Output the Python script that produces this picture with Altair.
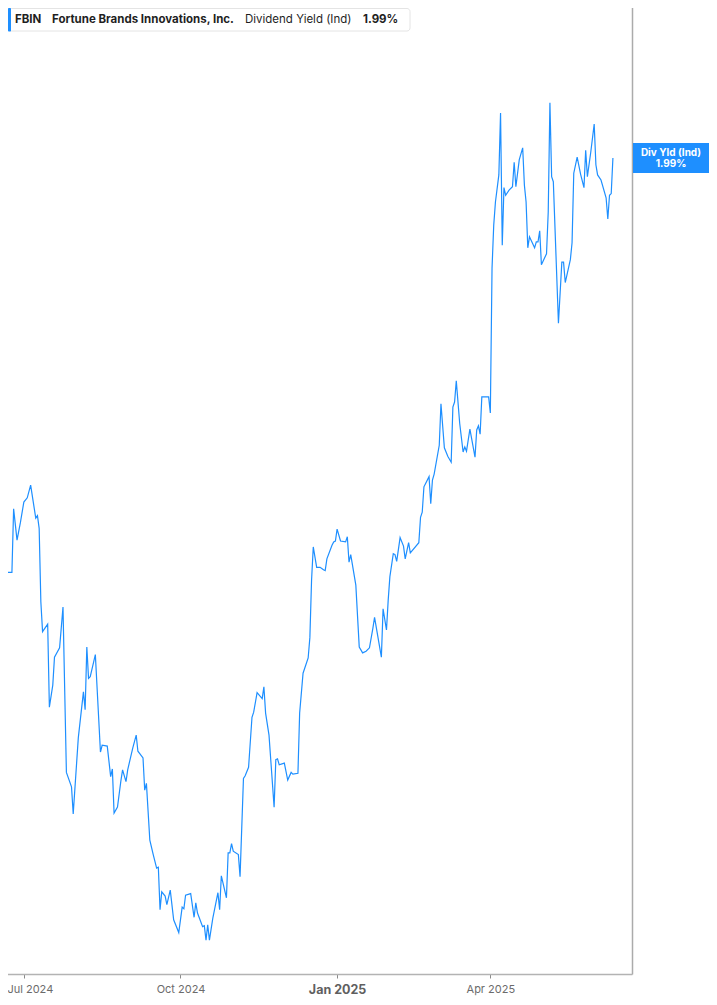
import altair as alt
import pandas as pd

# ---------------- data ----------------
DATES = [
    "2024-06-17", "2024-06-18", "2024-06-20", "2024-06-21", "2024-06-24", "2024-06-25", "2024-06-27", "2024-06-29",
    "2024-07-01", "2024-07-03", "2024-07-05", "2024-07-08", "2024-07-09", "2024-07-10", "2024-07-11", "2024-07-12",
    "2024-07-15", "2024-07-16", "2024-07-18", "2024-07-19", "2024-07-22", "2024-07-24", "2024-07-26", "2024-07-29",
    "2024-07-30", "2024-08-02", "2024-08-05", "2024-08-06", "2024-08-07", "2024-08-08", "2024-08-09", "2024-08-12",
    "2024-08-15", "2024-08-16", "2024-08-19", "2024-08-21", "2024-08-22", "2024-08-23", "2024-08-25", "2024-08-27",
    "2024-08-28", "2024-08-30", "2024-08-31", "2024-09-03", "2024-09-05", "2024-09-06", "2024-09-09", "2024-09-10",
    "2024-09-11", "2024-09-13", "2024-09-15", "2024-09-17", "2024-09-18", "2024-09-19", "2024-09-20", "2024-09-22",
    "2024-09-23", "2024-09-25", "2024-09-27", "2024-09-30", "2024-10-02", "2024-10-03", "2024-10-04", "2024-10-07",
    "2024-10-09", "2024-10-10", "2024-10-11", "2024-10-14", "2024-10-15", "2024-10-16", "2024-10-17", "2024-10-18",
    "2024-10-20", "2024-10-23", "2024-10-24", "2024-10-25", "2024-10-28", "2024-10-29", "2024-10-30", "2024-10-31",
    "2024-11-01", "2024-11-04", "2024-11-05", "2024-11-07", "2024-11-08", "2024-11-10", "2024-11-12", "2024-11-13",
    "2024-11-15", "2024-11-18", "2024-11-19", "2024-11-20", "2024-11-22", "2024-11-25", "2024-11-26", "2024-11-27",
    "2024-11-28", "2024-12-01", "2024-12-03", "2024-12-05", "2024-12-06", "2024-12-09", "2024-12-10", "2024-12-12",
    "2024-12-15", "2024-12-16", "2024-12-17", "2024-12-18", "2024-12-20", "2024-12-22", "2024-12-24", "2024-12-25",
    "2024-12-26", "2024-12-29", "2024-12-30", "2024-12-31", "2025-01-01", "2025-01-03", "2025-01-06", "2025-01-07",
    "2025-01-08", "2025-01-09", "2025-01-12", "2025-01-14", "2025-01-16", "2025-01-18", "2025-01-20", "2025-01-22",
    "2025-01-23", "2025-01-27", "2025-01-28", "2025-01-30", "2025-01-31", "2025-02-01", "2025-02-03", "2025-02-04",
    "2025-02-05", "2025-02-07", "2025-02-09", "2025-02-10", "2025-02-12", "2025-02-13", "2025-02-18", "2025-02-19",
    "2025-02-20", "2025-02-21", "2025-02-24", "2025-02-25", "2025-02-26", "2025-02-27", "2025-03-02", "2025-03-03",
    "2025-03-05", "2025-03-07", "2025-03-09", "2025-03-10", "2025-03-11", "2025-03-12", "2025-03-14", "2025-03-16",
    "2025-03-17", "2025-03-18", "2025-03-20", "2025-03-23", "2025-03-24", "2025-03-25", "2025-03-26", "2025-03-27",
    "2025-03-31", "2025-04-01", "2025-04-02", "2025-04-03", "2025-04-04", "2025-04-06", "2025-04-07", "2025-04-08",
    "2025-04-09", "2025-04-10", "2025-04-12", "2025-04-14", "2025-04-15", "2025-04-16", "2025-04-18", "2025-04-20",
    "2025-04-21", "2025-04-22", "2025-04-23", "2025-04-24", "2025-04-27", "2025-04-28", "2025-04-29", "2025-04-30",
    "2025-05-01", "2025-05-04", "2025-05-05", "2025-05-06", "2025-05-07", "2025-05-08", "2025-05-11", "2025-05-13",
    "2025-05-14", "2025-05-15", "2025-05-18", "2025-05-19", "2025-05-20", "2025-05-22", "2025-05-24", "2025-05-26",
    "2025-05-27", "2025-05-28", "2025-05-30", "2025-06-01", "2025-06-02", "2025-06-03", "2025-06-05", "2025-06-08",
    "2025-06-09", "2025-06-10", "2025-06-11", "2025-06-12",
]

YIELD = [
    1.498, 1.492, 1.491, 1.501, 1.501, 1.576, 1.539, 1.560,
    1.584, 1.589, 1.604, 1.565, 1.568, 1.553, 1.466, 1.431,
    1.440, 1.342, 1.368, 1.401, 1.412, 1.460, 1.265, 1.248,
    1.216, 1.306, 1.360, 1.339, 1.413, 1.376, 1.378, 1.404,
    1.289, 1.297, 1.296, 1.260, 1.269, 1.217, 1.224, 1.255,
    1.268, 1.254, 1.268, 1.294, 1.309, 1.290, 1.282, 1.244,
    1.252, 1.185, 1.168, 1.152, 1.153, 1.103, 1.124, 1.119,
    1.109, 1.126, 1.091, 1.076, 1.106, 1.104, 1.120, 1.122,
    1.094, 1.111, 1.099, 1.083, 1.084, 1.067, 1.085, 1.067,
    1.093, 1.123, 1.103, 1.143, 1.117, 1.170, 1.170, 1.181,
    1.172, 1.168, 1.142, 1.258, 1.261, 1.271, 1.330, 1.336,
    1.359, 1.352, 1.366, 1.335, 1.309, 1.224, 1.280, 1.281,
    1.274, 1.276, 1.256, 1.265, 1.263, 1.264, 1.335, 1.382,
    1.400, 1.424, 1.492, 1.531, 1.507, 1.507, 1.504, 1.503,
    1.517, 1.533, 1.537, 1.538, 1.552, 1.538, 1.537, 1.543,
    1.513, 1.522, 1.486, 1.413, 1.406, 1.408, 1.412, 1.435,
    1.448, 1.401, 1.458, 1.433, 1.468, 1.496, 1.523, 1.522,
    1.514, 1.542, 1.532, 1.517, 1.536, 1.524, 1.536, 1.566,
    1.572, 1.602, 1.614, 1.582, 1.610, 1.617, 1.651, 1.700,
    1.648, 1.638, 1.631, 1.696, 1.702, 1.727, 1.677, 1.643,
    1.649, 1.644, 1.670, 1.637, 1.669, 1.674, 1.664, 1.708,
    1.708, 1.689, 1.860, 1.911, 1.938, 1.970, 2.043, 1.887,
    1.955, 1.946, 1.952, 1.956, 1.985, 1.956, 1.988, 2.002,
    1.958, 1.938, 1.884, 1.897, 1.884, 1.891, 1.891, 1.904,
    1.864, 1.877, 1.926, 2.055, 1.968, 1.962, 1.795, 1.867,
    1.867, 1.843, 1.870, 1.890, 1.972, 1.991, 1.971, 1.955,
    1.999, 1.968, 1.997, 2.030, 1.982, 1.970, 1.964, 1.943,
    1.918, 1.946, 1.948, 1.990,
]

X_DOMAIN = ["2024-06-17T00:00:00", "2025-06-23T05:00:00"]
TICK_DATES = ["2024-07-01", "2024-10-01", "2025-01-01", "2025-04-01"]
Y_DOMAIN = [1.0271, 2.1764]

TICKER = "FBIN"
COMPANY = "Fortune Brands Innovations, Inc."
METRIC = "Dividend Yield (Ind)"
SHORT_METRIC = "Div Yld (Ind)"

BLUE = "#1e8fff"
FONT = "Inter"


def ms(s):
    return int(pd.Timestamp(s, tz="UTC").value // 10**6)


df = pd.DataFrame({"date": DATES, "yield": YIELD})
last_txt = f"{YIELD[-1]:.2f}%"

IS_JAN = "utcmonth(datum.value) == 0"
IS_FIRST = "utcmonth(datum.value) == 6"

x_enc = alt.X(
    "date:T",
    scale=alt.Scale(type="utc", domain=[ms(d) for d in X_DOMAIN], nice=False),
    axis=alt.Axis(
        values=[ms(d) for d in TICK_DATES],
        labelExpr="utcFormat(datum.value, '%b %Y')",
        title=None,
        grid=False,
        domainColor="#b3b3b3",
        domainWidth=1.5,
        tickColor="#8a8a8a",
        tickSize=4,
        tickWidth=1,
        labelPadding=5,
        labelFont=FONT,
        labelFontSize={"condition": {"test": IS_JAN, "value": 12.5}, "value": 11},
        labelFontWeight={"condition": {"test": IS_JAN, "value": "bold"}, "value": "normal"},
        labelColor={"condition": {"test": IS_JAN, "value": "#5f5f5f"}, "value": "#6b6b6b"},
        labelOffset={"condition": {"test": IS_FIRST, "value": 6}, "value": 0},
        labelBaseline="top",
    ),
)

y_enc = alt.Y(
    "yield:Q",
    scale=alt.Scale(domain=Y_DOMAIN, zero=False, nice=False),
    axis=alt.Axis(
        orient="right", labels=False, ticks=False, grid=False, title=None,
        domainColor="#ababab", domainWidth=1.5,
    ),
)

line = alt.Chart(df).mark_line(color=BLUE, strokeWidth=1.2, interpolate="linear").encode(
    x=x_enc, y=y_enc
)

one = pd.DataFrame({"k": [0]})

legend_box = alt.Chart(one).mark_rect(
    fill="white", stroke="#e4e4e4", strokeWidth=1, cornerRadius=3
).encode(x=alt.value(8.5), x2=alt.value(410), y=alt.value(8.5), y2=alt.value(31))

legend_bar = alt.Chart(one).mark_rect(fill=BLUE, cornerRadius=1).encode(
    x=alt.value(8), x2=alt.value(11), y=alt.value(8), y2=alt.value(31.5)
)


def legend_text(txt, x, weight):
    return alt.Chart(pd.DataFrame({"t": [txt]})).mark_text(
        align="left", baseline="alphabetic", font=FONT, fontSize=11.5,
        fontWeight=weight, color="#1f1f1f",
    ).encode(text="t:N", x=alt.value(x), y=alt.value(23))


t1 = legend_text(TICKER, 15, "bold")
t2 = legend_text(COMPANY, 52, "bold")
t3 = legend_text(METRIC, 245, "normal")
t4 = legend_text(last_txt, 363, "bold")

last_df = pd.DataFrame({"yield": [YIELD[-1]], "l1": [SHORT_METRIC], "l2": [last_txt]})

end_box = alt.Chart(last_df).mark_tick(
    orient="vertical", size=30, thickness=78, color=BLUE, opacity=1
).encode(x=alt.value(672), y=alt.Y("yield:Q"))

end_l1 = alt.Chart(last_df).mark_text(
    align="center", baseline="alphabetic", font=FONT, fontSize=10, fontWeight="bold",
    color="white", dy=-2,
).encode(x=alt.value(671), y=alt.Y("yield:Q"), text="l1:N")

end_l2 = alt.Chart(last_df).mark_text(
    align="center", baseline="alphabetic", font=FONT, fontSize=10, fontWeight="bold",
    color="white", dy=9,
).encode(x=alt.value(671), y=alt.Y("yield:Q"), text="l2:N")

chart = alt.layer(
    line, legend_box, legend_bar, t1, t2, t3, t4, end_box, end_l1, end_l2
).properties(
    width=632,
    height=974,
    autosize=alt.AutoSizeParams(type="none"),
    padding={"left": -8, "top": -8, "right": 77, "bottom": 24},
    background="white",
).configure_view(stroke=None)

chart.save("out.html", embed_options={"renderer": "svg", "actions": False})
